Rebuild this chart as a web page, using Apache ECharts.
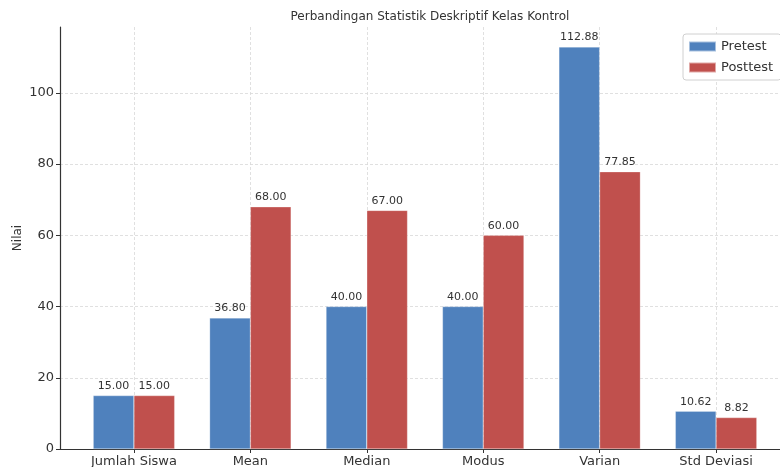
<!DOCTYPE html>
<html>
<head>
<meta charset="utf-8">
<script src="https://cdn.jsdelivr.net/npm/echarts@6/dist/echarts.min.js"></script>
<style>
  html, body { margin: 0; padding: 0; background: #fff; }
  #main { width: 780px; height: 467px; }
</style>
</head>
<body>
<div id="main"></div>
<script>
var categories = ['Jumlah Siswa', 'Mean', 'Median', 'Modus', 'Varian', 'Std Deviasi'];
var pretest = [15.00, 36.80, 40.00, 40.00, 112.88, 10.62];
var posttest = [15.00, 68.00, 67.00, 60.00, 77.85, 8.82];
var yTicks = [0, 20, 40, 60, 80, 100];

function toPoints(values) {
    return values.map(function (v, i) { return [i, v]; });
}

var myChart = echarts.init(document.getElementById('main'), null, { renderer: 'canvas' });
var font = 'DejaVu Sans';

option = {
    backgroundColor: '#fff',
    animation: false,
    textStyle: { fontFamily: font },
    title: {
        text: 'Perbandingan Statistik Deskriptif Kelas Kontrol',
        left: 425,
        textAlign: 'center',
        top: 6,
        textStyle: { fontFamily: font, fontSize: 12, fontWeight: 'normal', color: '#333' }
    },
    legend: {
        orient: 'vertical',
        left: 683,
        top: 34,
        icon: 'rect',
        itemWidth: 27,
        itemHeight: 10,
        itemGap: 8,
        padding: [6, 8, 6, 5],
        borderColor: '#d0d0d0',
        borderWidth: 1,
        borderRadius: 3,
        backgroundColor: '#fff',
        textStyle: { fontFamily: font, fontSize: 13, color: '#333' },
        data: ['Pretest', 'Posttest']
    },
    // plot area runs past the right edge of the picture, as in the source
    grid: { left: 60, width: 730, top: 27, bottom: 18, containLabel: false, outerBoundsMode: 'none' },
    xAxis: {
        type: 'value',
        min: -0.635,
        max: 5.635,
        minInterval: 1,
        maxInterval: 1,
        axisLine: { show: true, onZero: false, lineStyle: { color: '#333', width: 1.2 } },
        axisTick: { show: true, length: 4, lineStyle: { color: '#333' } },
        axisLabel: {
            fontFamily: font, fontSize: 13, color: '#333', margin: 6,
            showMinLabel: false, showMaxLabel: false,
            formatter: function (v) {
                return Math.abs(v - Math.round(v)) < 1e-6 ? (categories[Math.round(v)] || '') : '';
            }
        },
        splitLine: { show: true, showMinLine: false, showMaxLine: false, lineStyle: { color: '#d8d8d8', type: [3, 2], width: 0.8 } }
    },
    yAxis: {
        type: 'value',
        min: 0,
        max: 118.5,
        minInterval: 20,
        maxInterval: 20,
        name: 'Nilai',
        nameLocation: 'middle',
        nameRotate: 90,
        nameGap: 36,
        nameMoveOverlap: false,
        nameTextStyle: { fontFamily: font, fontSize: 12, color: '#333' },
        axisLine: { show: true, onZero: false, lineStyle: { color: '#333', width: 1.2 } },
        axisTick: { show: true, length: 4, lineStyle: { color: '#333' } },
        axisLabel: {
            fontFamily: font, fontSize: 13, color: '#333', margin: 6,
            showMaxLabel: false,
            formatter: function (v) { return yTicks.indexOf(v) >= 0 ? String(v) : ''; }
        },
        splitLine: { show: true, showMinLine: false, showMaxLine: false, lineStyle: { color: '#d8d8d8', type: [3, 2], width: 0.8 } }
    },
    series: [
        {
            name: 'Pretest',
            type: 'bar',
            data: toPoints(pretest),
            barWidth: '35%',
            barGap: '0%',
            itemStyle: { color: '#4f81bd', borderColor: 'rgba(255,255,255,0.5)', borderWidth: 0.5 },
            label: {
                show: true, position: 'top', distance: 4,
                fontFamily: font, fontSize: 11, color: '#333',
                formatter: function (p) { return p.value[1].toFixed(2); }
            }
        },
        {
            name: 'Posttest',
            type: 'bar',
            data: toPoints(posttest),
            barWidth: '35%',
            barGap: '0%',
            itemStyle: { color: '#c0504d', borderColor: 'rgba(255,255,255,0.5)', borderWidth: 0.5 },
            label: {
                show: true, position: 'top', distance: 4,
                fontFamily: font, fontSize: 11, color: '#333',
                formatter: function (p) { return p.value[1].toFixed(2); }
            }
        }
    ]
};

myChart.setOption(option);
</script>
</body>
</html>
